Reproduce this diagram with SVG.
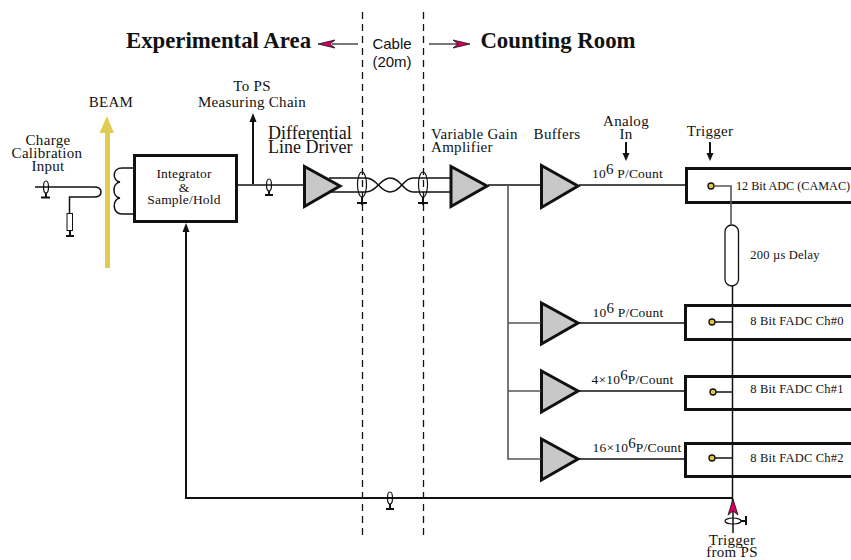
<svg xmlns="http://www.w3.org/2000/svg" width="851" height="560" viewBox="0 0 851 560">
<style>
text{font-family:"Liberation Serif",serif;fill:#111;text-anchor:middle}
.s{font-size:12.500px;letter-spacing:.2px}
.q{font-size:13.500px;letter-spacing:.2px}
.n{font-size:12.200px;letter-spacing:0;text-anchor:start}
.m{font-size:15px;letter-spacing:.3px}
.l{font-size:18px;text-anchor:start}
.v{text-anchor:start}
.h{font-size:22.800px;font-weight:bold}
.c{font-family:"Liberation Sans",sans-serif;font-size:15px}
.w{fill:none;stroke:#111;stroke-width:1.5}
.g{fill:none;stroke:#555;stroke-width:1.6}
.t{stroke:#111;fill:none;stroke-width:2}
.b{fill:#fff;stroke:#111;stroke-width:3}
.a{fill:#c8c8c8;stroke:#111;stroke-width:3}
.d{fill:none;stroke:#111;stroke-width:1.3;stroke-dasharray:7 5}
.o{fill:#e2c93c;stroke:#111;stroke-width:1.3}
.e{fill:none;stroke:#111;stroke-width:1.2}
.k{fill:#111}
.p{fill:#d4005f;stroke:#111;stroke-width:.8}
.u{font-size:15px}
</style>
<g id="beam"><path fill="#e0cb55" d="M105 268V133H99.500L107 116L114 133H110V268Z"/><text class="m" x="111" y="107">BEAM</text></g>
<g id="integrator"><rect class="b" x="134.500" y="155.500" width="102" height="66"/><text class="q" x="184" y="178">Integrator</text><text class="q" x="184" y="192">&amp;</text><text class="q" x="184" y="204">Sample/Hold</text></g>
<g id="charge-input"><text class="m" x="48" y="145">Charge</text><text class="m" x="47" y="158">Calibration</text><text class="m" x="48" y="171">Input</text>
<ellipse class="e" cx="46" cy="187" rx="2.500" ry="6"/><path class="t" d="M46 193V197M41 197.500H50"/>
<rect fill="#fff" stroke="#111" x="67" y="213.500" width="5.500" height="17"/><path class="t" d="M70 231V235M66 236H74"/></g>
<g id="ps-chain"><text class="m" x="252" y="91">To PS</text><text class="m" x="252" y="107">Measuring Chain</text>
<ellipse class="e" cx="269" cy="185" rx="2.500" ry="6"/><path class="t" d="M269 191V194M265 195H273"/></g>
<g id="line-driver"><path class="a" d="M304.500 166.500V206.500L340 186Z"/><text class="l" x="268" y="138.500">Differential</text><text class="l" x="268" y="152.500">Line Driver</text></g>
<g id="cable"><text class="c" x="392" y="49">Cable</text><text class="c" x="392" y="67">(20m)</text>
<ellipse class="e" cx="362" cy="184.500" rx="4.500" ry="12.500"/><ellipse class="e" cx="423" cy="184.500" rx="4.500" ry="12.500"/>
<path class="t" d="M362 197V205M357 203H367M423 197V205M418 203H428"/></g>
<g id="titles"><text class="h" x="218.500" y="48">Experimental Area</text><text class="h" x="558" y="48">Counting Room</text></g>
<g id="vga"><path class="a" d="M451 166.500V206.500L487 186Z"/><text class="m v" x="431" y="139">Variable Gain</text><text class="m v" x="431" y="152">Amplifier</text></g>
<g id="buffers"><text class="m" x="557" y="139">Buffers</text>
<path class="a" d="M541.500 165.500V207.500L578 186Z"/><path class="a" d="M541.500 303V344L578 323Z"/><path class="a" d="M541.500 371V412L578 391Z"/><path class="a" d="M541.500 439V480L578 459Z"/></g>
<g id="adc"><text class="m" x="626" y="126">Analog</text><text class="m" x="626" y="139">In</text><text class="m" x="710" y="136">Trigger</text>
<path class="b" d="M851 168.500H686.500V202.500H851"/><circle class="o" cx="711" cy="186" r="3"/><text class="n" x="736" y="190">12 Bit ADC (CAMAC)</text><text class="q" x="627.500" y="178">10<tspan class="u" dy="-4">6</tspan><tspan dy="4"> P/Count</tspan></text></g>
<g id="delay"><rect fill="#fff" stroke="#111" stroke-width="1.300" x="725" y="225" width="13.500" height="61" rx="6.700"/><text class="s" x="785" y="259">200 µs Delay</text></g>
<g id="fadc0"><path class="b" d="M851 305.500H685.500V339.500H851"/><circle class="o" cx="712" cy="322" r="3"/><text class="s" x="797" y="325">8 Bit FADC Ch#0</text><text class="q" x="628" y="317">10<tspan class="u" dy="-4">6</tspan><tspan dy="4"> P/Count</tspan></text></g>
<g id="fadc1"><path class="b" d="M851 376.500H685.500V409.500H851"/><circle class="o" cx="713" cy="392" r="3"/><text class="s" x="797" y="393">8 Bit FADC Ch#1</text><text class="q" x="632.500" y="384">4×10<tspan class="u" dy="-4">6</tspan><tspan dy="4">P/Count</tspan></text></g>
<g id="fadc2"><path class="b" d="M851 443.500H685.500V476.500H851"/><circle class="o" cx="712" cy="458" r="3"/><text class="q" x="637" y="452">16×10<tspan class="u" dy="-4">6</tspan><tspan dy="4">P/Count</tspan></text><text class="s" x="797" y="462">8 Bit FADC Ch#2</text></g>
<g id="trigger-ps"><ellipse class="e" cx="733" cy="521" rx="8" ry="3"/><path class="t" d="M741 521H745M746 516V525"/><text class="m" x="732" y="545">Trigger</text><text class="m" x="732" y="557">from PS</text></g>
<g id="bus-tap"><ellipse class="e" cx="390" cy="498" rx="2.500" ry="6"/><path class="t" d="M390 504V508M386 509H394"/></g>
<g id="connectors">
<line class="d" x1="362.500" y1="12" x2="362.500" y2="537"/>
<line class="d" x1="423.500" y1="12" x2="423.500" y2="537"/>
<path class="g" d="M358 44H332"/><path class="g" d="M429 44H458"/>
<path class="w" d="M35 187H94Q101 187 101 192Q101 197 94 197H69.500V213"/>
<path class="w" d="M134 168H122C112 168 112 181 120 182C112 183 112 197 120 198C112 199 112 214 122 214H134"/>
<path class="w" d="M238 185H304"/>
<path class="t" d="M253 184V118"/><path class="k" d="M253 113l-3.500 9h7z"/>
<path class="w" d="M329 178H366C377 178 380 192 390 192C401 192 403 178 413 178H450"/>
<path class="w" d="M329 192H366C377 192 380 178 390 178C401 178 403 192 413 192H450"/>
<path class="w" d="M488 185H541"/>
<path class="g" d="M508 185V459H541"/><path class="g" d="M508 323H541"/><path class="g" d="M508 391H541"/>
<path class="w" d="M579 185H686"/>
<path class="w" d="M579 323H685"/><path class="w" d="M579 391H685"/><path class="w" d="M579 459H685"/>
<path class="t" d="M186 228V498H732"/>
<path class="k" d="M186 223l-3.500 9h7z"/>
<path class="g" d="M714 186H731V225"/>
<path class="w" d="M732.500 286V512"/>
<path class="w" d="M715 322H732M716 392H732M715 458H732"/>
<path class="w" stroke-width="3" d="M733 512V533"/>
<path class="p" d="M733 499L728 515L733 511L738 515Z"/>
<path class="p" d="M318 44L335 40L330 44L335 48Z"/>
<path class="p" d="M470 44L453 40L458 44L453 48Z"/>
<path class="t" d="M626 142V155"/><path class="k" d="M626 161l-3.500-8h7z"/>
<path class="t" d="M710 142V155"/><path class="k" d="M710 161l-3.500-8h7z"/>
</g>
</svg>
